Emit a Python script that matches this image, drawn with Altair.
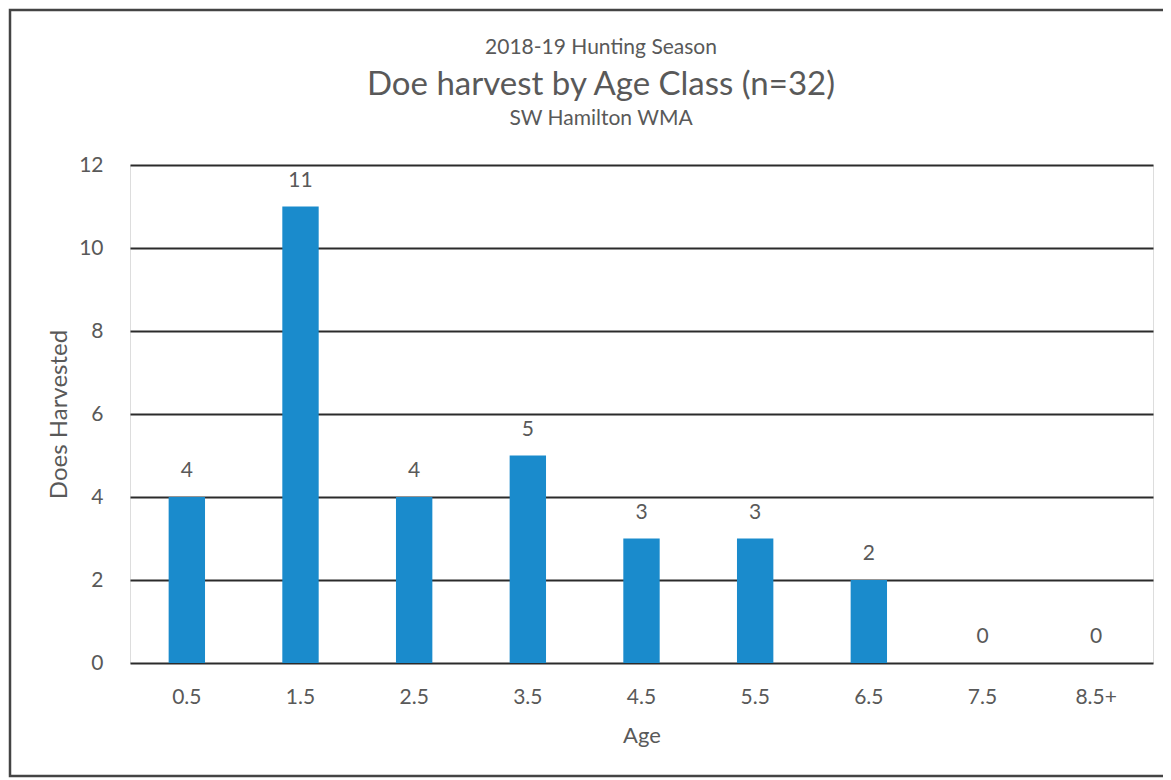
import altair as alt
import pandas as pd

ages = ["0.5", "1.5", "2.5", "3.5", "4.5", "5.5", "6.5", "7.5", "8.5+"]
does = [4, 11, 4, 5, 3, 3, 2, 0, 0]

title_top = "2018-19 Hunting Season"
title_main = "Doe harvest by Age Class (n=32)"
title_sub = "SW Hamilton WMA"

df = pd.DataFrame({"Age": ages, "Does": does})

FONT = "Lato"
GRAY = "#595959"

base = alt.Chart(df)

bars = base.mark_bar(color="#1a8bcc").encode(
    x=alt.X("Age:N", sort=ages, title="Age",
            scale=alt.Scale(paddingInner=0.68, paddingOuter=0.34),
            axis=alt.Axis(labelAngle=0, labelFontSize=21, labelColor=GRAY,
                          labelFont=FONT, titleFont=FONT, titleFontSize=22,
                          titleColor=GRAY, titleFontWeight="normal",
                          domain=False, ticks=False, labelPadding=23,
                          titlePadding=18)),
    y=alt.Y("Does:Q", title="Does Harvested",
            scale=alt.Scale(domain=[0, 12]),
            axis=alt.Axis(values=[0, 2, 4, 6, 8, 10, 12], labelFontSize=21,
                          labelColor=GRAY, labelFont=FONT, titleFont=FONT,
                          titleFontSize=24, titleColor=GRAY,
                          titleFontWeight="normal", domain=False, ticks=False,
                          labelPadding=27, titlePadding=7,
                          gridColor="#2b2b2b", gridWidth=2, gridOpacity=1)),
)

labels = base.mark_text(baseline="middle", dy=-26, fontSize=21, color=GRAY,
                        font=FONT).encode(
    x=alt.X("Age:N", sort=ages),
    y=alt.Y("Does:Q"),
    text=alt.Text("Does:Q"),
)


def title_line(text, size, ypos):
    return alt.Chart(pd.DataFrame({"t": [text]})).mark_text(
        fontSize=size, color=GRAY, font=FONT, baseline="middle",
        align="center"
    ).encode(x=alt.value(471), y=alt.value(ypos), text="t:N")


t1 = title_line(title_top, 21, -117)
t2 = title_line(title_main, 33, -80)
t3 = title_line(title_sub, 21, -46)

frame = alt.Chart(pd.DataFrame({"f": [0]})).mark_rect(
    fill=None, stroke="#444444", strokeWidth=2.5
).encode(x=alt.value(-120), x2=alt.value(1060), y=alt.value(-155),
         y2=alt.value(611))

chart = alt.layer(bars, labels, t1, t2, t3, frame).properties(
    width=1023, height=498,
    autosize=alt.AutoSizeParams(type="none"),
    padding={"left": 122, "top": 157, "right": 10, "bottom": 120},
).configure_view(stroke=None).configure(background="white")

chart.save("out.html", embed_options={"renderer": "svg", "actions": False})
